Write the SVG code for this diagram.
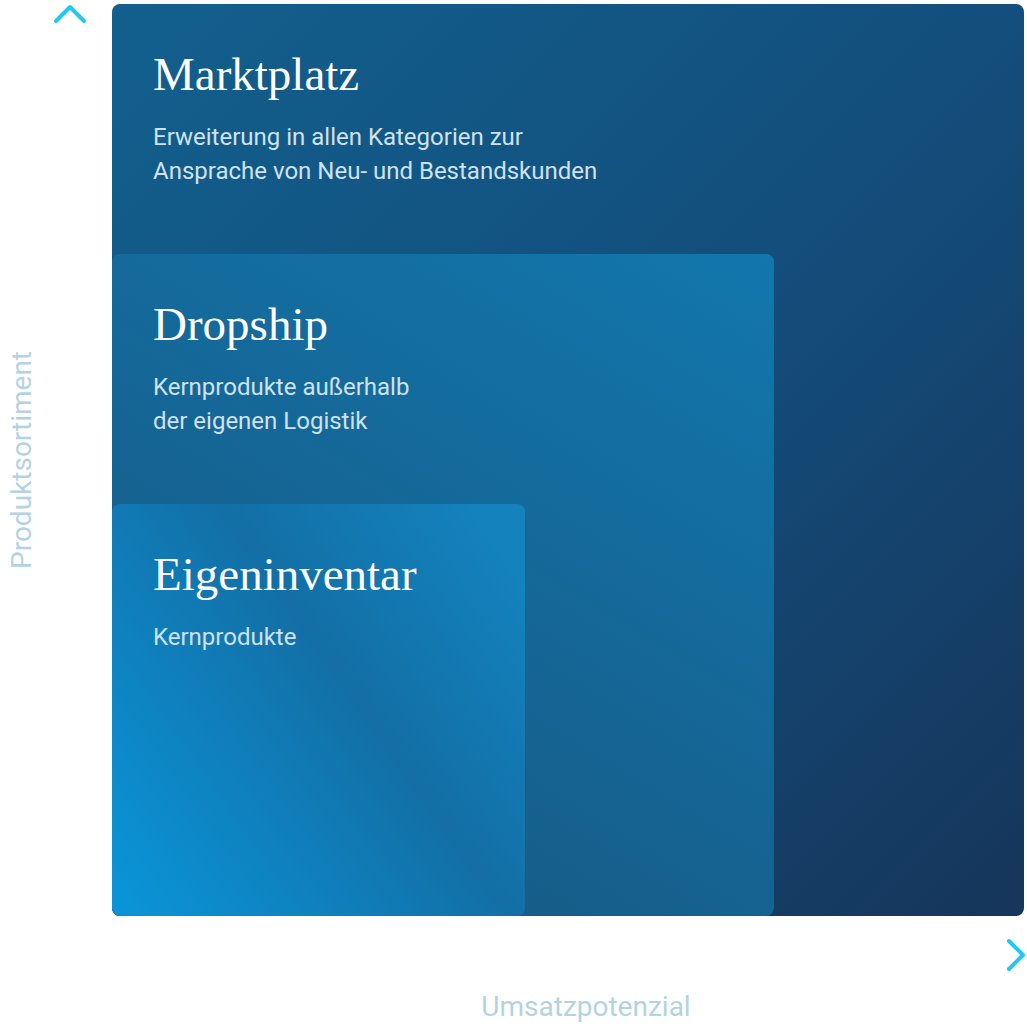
<svg xmlns="http://www.w3.org/2000/svg" width="1027" height="1027" viewBox="0 0 1027 1027">
<style>
.t{font-family:"Liberation Serif","DejaVu Serif",serif;font-size:47px;fill:#fff}
.b{font-family:Roboto,"Liberation Sans",sans-serif;font-size:24px;fill:#cfe2ee}
.ax{font-family:Roboto,"Liberation Sans",sans-serif;font-size:28px;fill:#b3d3e3;text-anchor:middle}
</style>
<defs>
<linearGradient id="g1" x1="0" y1="0" x2="1" y2="1"><stop offset="0" stop-color="#12608e"/><stop offset="0.5" stop-color="#134e7c"/><stop offset="1" stop-color="#16355a"/></linearGradient>
<linearGradient id="g2" x1="1" y1="0" x2="0.4" y2="1"><stop offset="0" stop-color="#1277ad"/><stop offset="1" stop-color="#175a85"/></linearGradient>
<linearGradient id="g3" x1="0" y1="0.9" x2="1" y2="0.2"><stop offset="0" stop-color="#0a93d6"/><stop offset="0.6" stop-color="#136fa6"/><stop offset="1" stop-color="#1382bd"/></linearGradient>
<linearGradient id="ay" x1="0" y1="1" x2="0" y2="0"><stop offset="0" stop-color="#22c8f0" stop-opacity="0"/><stop offset="0.5" stop-color="#22c8f0" stop-opacity="0.6"/><stop offset="1" stop-color="#22c8f0"/></linearGradient>
<linearGradient id="axg" x1="0" y1="0" x2="1" y2="0"><stop offset="0" stop-color="#22c8f0" stop-opacity="0"/><stop offset="0.5" stop-color="#22c8f0" stop-opacity="0.6"/><stop offset="1" stop-color="#22c8f0"/></linearGradient>
</defs>
<g id="connectors" fill="none" stroke-width="4" stroke-linecap="round" stroke-linejoin="round">
<line x1="70" y1="905" x2="70" y2="8" stroke="url(#ay)"/>
<polyline points="56,21 70,7 84,21" stroke="#22c8f0"/>
<line x1="118" y1="955" x2="1022" y2="955" stroke="url(#axg)" gradientUnits="userSpaceOnUse"/>
<polyline points="1009,941 1023,955 1009,969" stroke="#22c8f0"/>
</g>
<g id="marktplatz">
<rect x="112" y="4" width="912" height="912" rx="8" fill="url(#g1)"/>
<text class="t" x="153" y="90">Marktplatz</text>
<text class="b" x="153" y="145">Erweiterung in allen Kategorien zur</text>
<text class="b" x="153" y="179">Ansprache von Neu- und Bestandskunden</text>
</g>
<g id="dropship">
<rect x="112" y="254" width="662" height="662" rx="8" fill="url(#g2)"/>
<text class="t" x="153" y="340">Dropship</text>
<text class="b" x="153" y="395">Kernprodukte außerhalb</text>
<text class="b" x="153" y="429">der eigenen Logistik</text>
</g>
<g id="eigeninventar">
<rect x="112" y="504" width="413" height="412" rx="8" fill="url(#g3)"/>
<text class="t" x="153" y="590">Eigeninventar</text>
<text class="b" x="153" y="645">Kernprodukte</text>
</g>
<text class="ax" transform="translate(31,460) rotate(-90)">Produktsortiment</text>
<text class="ax" x="586" y="1016">Umsatzpotenzial</text>
</svg>
